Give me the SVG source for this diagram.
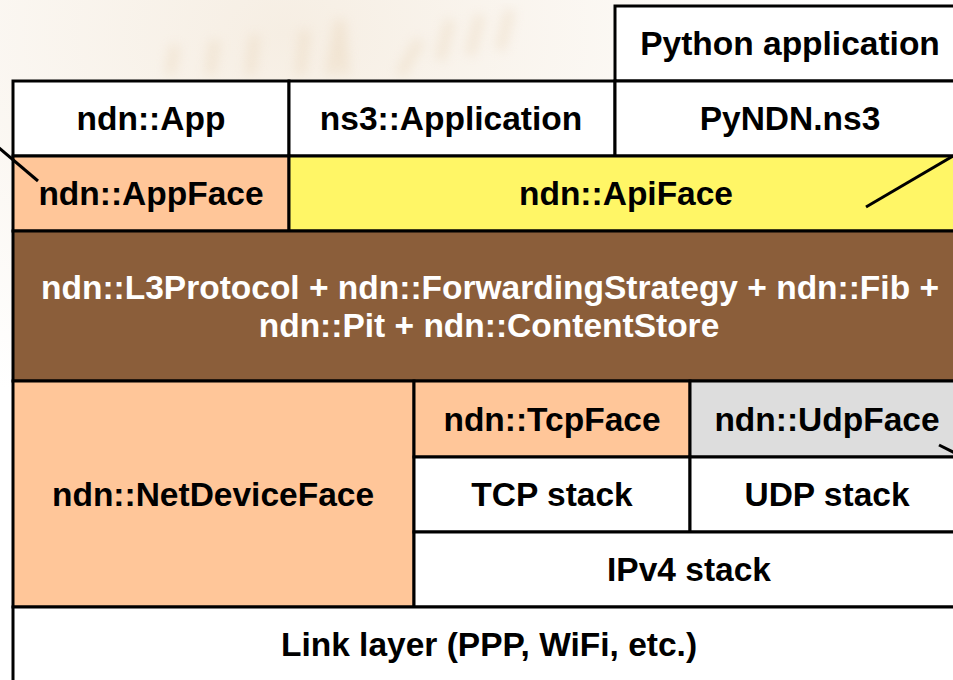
<svg xmlns="http://www.w3.org/2000/svg" width="953" height="680" viewBox="0 0 953 680">
<defs>
<radialGradient id="bg" cx="0.3" cy="0.05" r="0.6">
<stop offset="0" stop-color="#F6EEE3"/>
<stop offset="1" stop-color="#FFFFFF"/>
</radialGradient>
<filter id="blur"><feGaussianBlur stdDeviation="6"/></filter>
</defs>
<style>
.box{stroke:#000;stroke-width:3}
.w{fill:#FFFFFF}
.peach{fill:#FFC699}
.yellow{fill:#FFF666}
.brown{fill:#8B5E3A}
.gray{fill:#DDDDDD}
text{font-family:"Liberation Sans",Arial,Helvetica,sans-serif;font-weight:bold;font-size:33.5px;text-anchor:middle;fill:#000}
.wt{fill:#FFFFFF}
.conn{stroke:#000;stroke-width:3;fill:none}
</style>
<rect x="0" y="0" width="953" height="680" fill="url(#bg)"/>
<g filter="url(#blur)" opacity="0.35" stroke="#E6CFAE" stroke-width="10" fill="none">
<path d="M170 75 L175 45 M210 75 L215 40 M250 75 L255 35 M300 75 L305 30 M330 75 L340 20 L345 75 M400 75 L420 40 M440 60 L450 20 M470 55 L480 15 M500 50 L510 10"/>
</g>
<g id="python-application"><rect class="box w" x="615" y="6" width="350" height="75"/><text x="790" y="55">Python application</text></g>
<g id="ndn-app"><rect class="box w" x="13" y="81" width="276" height="75"/><text x="151" y="130">ndn::App</text></g>
<g id="ns3-application"><rect class="box w" x="289" y="81" width="326" height="75"/><text x="451" y="130">ns3::Application</text></g>
<g id="pyndn-ns3"><rect class="box w" x="615" y="81" width="350" height="75"/><text x="790" y="130">PyNDN.ns3</text></g>
<g id="ndn-appface"><rect class="box peach" x="13" y="156" width="276" height="75"/><text x="151" y="205">ndn::AppFace</text></g>
<g id="ndn-apiface"><rect class="box yellow" x="289" y="156" width="676" height="75"/><text x="626" y="205">ndn::ApiFace</text></g>
<g id="ndn-l3protocol"><rect class="box brown" x="13" y="231" width="952" height="150"/><text class="wt" x="490" y="299">ndn::L3Protocol + ndn::ForwardingStrategy + ndn::Fib +</text><text class="wt" x="489" y="337">ndn::Pit + ndn::ContentStore</text></g>
<g id="ndn-netdeviceface"><rect class="box peach" x="13" y="381" width="401" height="226"/><text x="213" y="506">ndn::NetDeviceFace</text></g>
<g id="ndn-tcpface"><rect class="box peach" x="414" y="381" width="276" height="76"/><text x="552" y="431">ndn::TcpFace</text></g>
<g id="ndn-udpface"><rect class="box gray" x="690" y="381" width="275" height="76"/><text x="827" y="431">ndn::UdpFace</text></g>
<g id="tcp-stack"><rect class="box w" x="414" y="457" width="276" height="75"/><text x="552" y="506">TCP stack</text></g>
<g id="udp-stack"><rect class="box w" x="690" y="457" width="275" height="75"/><text x="827" y="506">UDP stack</text></g>
<g id="ipv4-stack"><rect class="box w" x="414" y="532" width="551" height="75"/><text x="689" y="581">IPv4 stack</text></g>
<g id="link-layer"><rect class="box w" x="13" y="607" width="952" height="80"/><text x="489" y="656">Link layer (PPP, WiFi, etc.)</text></g>
<g id="connectors">
<line class="conn" x1="-2" y1="147" x2="38" y2="181"/>
<line class="conn" x1="866" y1="207" x2="953" y2="156"/>
<line class="conn" x1="939" y1="445" x2="955" y2="453"/>
</g>
</svg>
